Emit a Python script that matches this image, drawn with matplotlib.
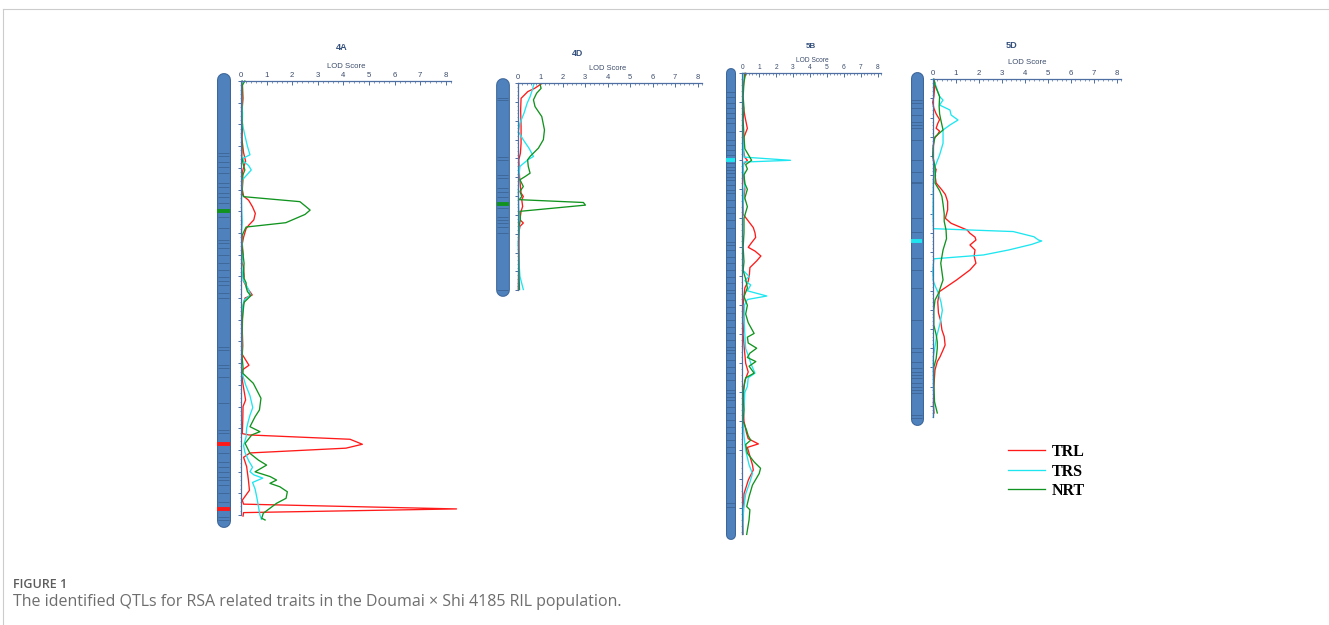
import numpy as np
import matplotlib.pyplot as plt
from matplotlib.lines import Line2D

W, H = 1329, 625

# ---- data: (position, LOD) pairs ----
a4_trl = [(0, 0.05), (8, 0.08), (15, 0.03), (20, 0.06), (27, 0.04), (33, 0.1), (37, 0.18), (40, 0.1), (42, 0.05),
          (45, 0.08), (50, 0.05), (53, 0.1), (55, 0.3), (58, 0.45), (61, 0.56), (64, 0.5), (66.5, 0.3), (68, 0.2),
          (70, 0.15), (72, 0.1), (75, 0.05), (80, 0.08), (83, 0.03), (86, 0.1), (90, 0.12), (92, 0.09), (95, 0.22),
          (98.6, 0.44), (100, 0.16), (104, 0.07), (114.7, 0.05), (122, 0.07), (126, 0.05), (131, 0.31), (133, 0.07),
          (137.8, 0.05), (147, 0.18), (150, 0.08), (156, 0.07), (162.5, 0.05), (163.1, 0.3), (165.1, 4.26),
          (167.4, 4.74), (169.2, 4.1), (171.4, 0.35), (173.4, 0.1), (177.7, 0.22), (183.9, 0.29), (188.6, 0.33),
          (193.2, 0.05), (195, 0.1), (197.2, 8.42), (198.9, 0.1), (200.5, 0.08)]
a4_trs = [(0, 0.05), (5, 0.02), (10, 0.03), (15, 0.06), (19.5, 0.05), (25, 0.15), (30, 0.25), (34, 0.35),
          (35.6, 0.08), (37, 0.1), (39, 0.3), (41, 0.4), (43, 0.25), (45.6, 0.05), (50, 0.03), (55, 0.02), (60, 0.03),
          (65, 0.05), (70, 0.02), (75, 0.04), (80, 0.05), (85, 0.03), (90, 0.06), (92, 0.1), (95, 0.25), (98.5, 0.38),
          (101, 0.12), (105, 0.05), (115, 0.03), (125, 0.04), (131, 0.02), (135, 0.05), (140, 0.18), (145, 0.35),
          (150.5, 0.46), (154, 0.35), (157, 0.28), (160, 0.22), (164, 0.2), (168, 0.1), (171, 0.15), (175, 0.3),
          (178, 0.45), (180, 0.35), (181.5, 0.5), (183, 0.85), (185, 0.45), (188, 0.55), (192, 0.62), (196, 0.68),
          (200, 0.74), (202, 0.8)]
a4_nrt = [(0, 0.15), (2, 0.05), (10, 0.03), (20, 0.04), (25, 0.02), (30, 0.05), (35, 0.03), (38, 0.08), (41, 0.15),
          (44, 0.05), (48, 0.03), (52, 0.05), (53.3, 0.1), (55.6, 2.3), (58, 2.55), (59.5, 2.7), (61.5, 2.5),
          (65.3, 1.75), (67.3, 0.2), (68.5, 0.15), (71, 0.05), (75, 0.03), (80, 0.08), (84, 0.12), (88, 0.1),
          (91, 0.12), (93, 0.2), (95, 0.2), (97, 0.25), (99, 0.38), (102, 0.12), (110, 0.05), (120, 0.03), (128, 0.05),
          (132, 0.08), (134.7, 0.07), (139.3, 0.48), (146.2, 0.78), (151.6, 0.72), (154.7, 0.55), (159.3, 0.35),
          (161.6, 0.74), (163.1, 0.42), (167, 0.16), (171.6, 0.35), (174.7, 0.68), (177, 1.0), (180.1, 0.55),
          (182.3, 1.14), (183.9, 1.39), (185.4, 1.13), (187, 1.52), (189.3, 1.81), (192.3, 1.76), (194.6, 1.39),
          (199.2, 0.87), (201.5, 0.81), (202.3, 0.94)]

d4_trl = [(0.3, 1.05), (2.7, 0.75), (4.4, 0.45), (8, 0.15), (14.2, 0.13), (23, 0.15), (31.9, 0.15), (37.2, 0.12),
          (40.7, 0.05), (49.6, 0.08), (58.4, 0.15), (60.2, 0.25), (61.9, 0.18), (65.5, 0.22), (68.1, 0.15),
          (72.6, 0.1), (74.3, 0.25), (76.1, 0.1), (79.6, 0.05), (93.8, 0.05), (109.7, 0.03)]
d4_trs = [(0.3, 0.72), (3.5, 0.65), (7.1, 0.55), (10.6, 0.42), (15.9, 0.28), (21.2, 0.1), (25.7, 0.03), (30.1, 0.25),
          (34.5, 0.5), (38.9, 0.7), (40.7, 0.45), (44.2, 0.1), (49.6, 0.05), (58.4, 0.03), (67.3, 0.05), (76.1, 0.08),
          (85, 0.02), (93.8, 0.05), (102.7, 0.1), (109.7, 0.25)]
d4_nrt = [(0.3, 0.99), (2.7, 1.04), (5.3, 0.84), (8.8, 0.7), (12.4, 0.77), (17.7, 1.07), (24.8, 1.19), (30, 1.14),
          (34.5, 0.92), (38.9, 0.55), (40.7, 0.44), (44.2, 0.47), (47.8, 0.55), (49.6, 0.33), (51.3, 0.1),
          (54.9, 0.25), (57.5, 0.1), (60.2, 0.18), (61.9, 0.07), (63.4, 2.92), (64.8, 3.01), (68.1, 0.1),
          (72.6, 0.12), (76.1, 0.06), (85, 0.04), (93.8, 0.05), (102.7, 0.06), (109.7, 0.08)]

b5_trl = [(0, 0.15), (5, 0.05), (10, 0.02), (15, 0.16), (19, 0.3), (22, 0.1), (26, 0.05), (29, 0.15), (30, 0.3),
          (31.5, 0.05), (35, 0.08), (40, 0.15), (45, 0.05), (48.6, 0.05), (53.2, 0.65), (55, 0.75), (56.6, 0.79),
          (58.4, 0.55), (60, 0.35), (61.3, 0.75), (63, 1.1), (64.7, 0.85), (67, 0.45), (69.4, 0.42), (71.7, 0.35),
          (74, 0.15), (77, 0.1), (80, 0.05), (85, 0.1), (90, 0.05), (95, 0.12), (100, 0.2), (103, 0.35), (106, 0.15),
          (110, 0.05), (115, 0.05), (120, 0.1), (124, 0.25), (126, 0.35), (127.8, 0.95), (129, 0.3), (132, 0.45),
          (135, 0.6), (136.8, 0.65), (140.2, 0.36), (145, 0.1), (151.7, 0.06), (155, 0.03), (159, 0.05)]
b5_trs = [(0, 0.05), (10, 0.02), (20, 0.03), (28.9, 0.1), (30, 2.85), (30.6, 0.1), (33, 0.05), (38, 0.15), (40, 0.1),
          (45, 0.05), (50, 0.02), (60, 0.02), (65, 0.03), (68, 0.05), (70, 0.4), (71.5, 0.15), (73, 0.5), (75, 0.3),
          (76.8, 1.45), (78, 0.3), (80, 0.12), (85, 0.1), (90, 0.15), (95, 0.2), (98, 0.4), (100, 0.5), (103.4, 0.75),
          (105, 0.35), (108, 0.3), (110, 0.15), (115, 0.1), (120, 0.05), (125, 0.1), (130, 0.2), (135, 0.4),
          (138, 0.6), (141, 0.45), (145, 0.2), (150, 0.08), (155, 0.04), (159, 0.03)]
b5_nrt = [(0, 0.2), (3, 0.1), (8, 0.05), (12, 0.1), (16, 0.05), (22, 0.1), (26, 0.15), (28, 0.35), (30, 0.55),
          (31.5, 0.2), (33, 0.3), (35, 0.1), (38, 0.15), (40, 0.3), (43, 0.15), (46, 0.3), (50, 0.1), (55, 0.1),
          (60, 0.05), (65, 0.1), (68, 0.05), (71, 0.2), (74, 0.3), (77, 0.1), (80, 0.3), (83, 0.2), (86, 0.35),
          (89.7, 0.7), (91, 0.3), (93, 0.35), (94.8, 0.85), (96.5, 0.45), (98, 0.3), (99.4, 0.8), (101, 0.4),
          (103.4, 0.7), (105, 0.2), (108, 0.1), (112, 0.05), (116, 0.1), (120, 0.05), (123, 0.25), (125, 0.35),
          (126.5, 0.5), (128, 0.2), (131, 0.3), (134, 0.7), (136.2, 1.08), (138, 1.0), (142, 0.6), (146, 0.4),
          (149.4, 0.26), (150.5, 0.45), (154, 0.4), (159, 0.26)]

d5_trl = [(0, 0.05), (2, 0.1), (5, 0.08), (9, 0.05), (12, 0.0), (15, 0.05), (18, 0.15), (21, 0.3), (23, 0.22),
          (25.5, 0.15), (27, 0.3), (29, 0.2), (31, 0.05), (35, 0.03), (40, 0.02), (45, 0.05), (47, 0.15), (50, 0.1),
          (54, 0.15), (57.6, 0.4), (60, 0.55), (63.7, 0.65), (68, 0.65), (72.4, 0.55), (75, 0.8), (78.5, 1.5),
          (80.2, 1.62), (82.2, 1.84), (83.7, 1.88), (86.3, 1.62), (88.9, 1.84), (92, 1.8), (95.8, 1.88),
          (99.3, 1.62), (104.5, 1.04), (110.6, 0.29), (116, 0.22), (121.7, 0.25), (126, 0.35), (130.5, 0.4),
          (134, 0.5), (138.4, 0.54), (141, 0.45), (144.5, 0.32), (147, 0.2), (151.4, 0.1), (160, 0.05),
          (170.5, 0.03), (173.8, 0.06)]
d5_trs = [(0, 0.02), (2, 0.1), (5.6, 0.2), (9, 0.3), (10.8, 0.45), (13.4, 0.3), (16, 0.75), (18.6, 0.8), (21.2, 1.1),
          (23.8, 0.75), (26.4, 0.45), (33.3, 0.45), (39.4, 0.3), (45.5, 0.1), (52, 0.03), (60, 0.02), (70, 0.01),
          (77.8, 0.03), (79.3, 3.5), (82, 4.4), (83.7, 4.6), (84.2, 4.74), (86, 4.3), (88.9, 3.3), (91.5, 2.2),
          (93.5, 0.05), (100, 0.0), (104.9, 0.02), (108, 0.12), (111.5, 0.25), (116, 0.36), (120.3, 0.42),
          (127.1, 0.32), (134, 0.17), (144.4, 0.03), (150, 0.02), (160, 0.03), (170, 0.05), (176, 0.03)]
d5_nrt = [(0, 0.05), (3, 0.1), (9, 0.3), (14, 0.28), (18, 0.3), (21, 0.35), (26.4, 0.45), (30, 0.1), (35, 0.02),
          (40, 0.0), (45.5, 0.1), (50, 0.12), (54, 0.1), (58, 0.3), (61, 0.4), (65, 0.45), (70, 0.5), (74, 0.5),
          (78.5, 0.58), (83, 0.6), (88.9, 0.45), (95.8, 0.35), (104.5, 0.45), (111.5, 0.25), (115, 0.1),
          (120, 0.05), (128, 0.05), (133, 0.15), (136.8, 0.2), (140, 0.2), (145.5, 0.15), (150, 0.05), (160, 0.05),
          (168, 0.08), (173.8, 0.2)]

# marker bands on the chromosomes (cM)
a4_bands = [33.3, 34.6, 37.2, 39.5, 42.5, 47.1, 48.7, 51.8, 53.3, 56.4, 62.5, 67.9, 73.3, 74.5, 77.1, 80.2, 84, 87.1,
            90.2, 92, 94, 97.8, 100.1, 122.4, 124, 130.9, 132.4, 136.3, 148.5, 160.8, 162.4, 171.6, 175.4, 177.7,
            180, 182.3, 183.9, 186.2, 190, 193.9, 200.8, 202.5]
d4_bands = [8, 8.9, 39, 40.8, 48.8, 50.5, 55.9, 57.7, 60.3, 66.5, 71, 72.7, 74.5, 76.3, 79.8, 110]
b5_bands = [6.3, 8.1, 10.3, 12.1, 13.8, 15.5, 17.2, 20.1, 23, 24.7, 26.4, 28.2, 31, 32.2, 33.3, 34.5, 35.7, 36.8,
            38.5, 40.2, 41.4, 43.7, 46, 48.3, 50.6, 53.4, 58.1, 59.2, 60.9, 63.2, 65.5, 67.8, 70.1, 72.4, 74.7, 75.9,
            78.2, 80.5, 82.8, 85.1, 87.4, 89.7, 92, 94.3, 95.4, 96.6, 98.9, 101.2, 103.4, 105.8, 109.2, 110.3, 111.5,
            112.7, 115, 117.2, 119.6, 121.9, 124.1, 126.4, 128.8, 131, 148.3, 149.4]
d5_bands = [10.8, 12.5, 15.1, 18.6, 22.1, 23.8, 25.5, 31.6, 42, 48.1, 53.3, 54.2, 72.4, 79.4, 93.2, 99.3, 108.9,
            125.4, 140.1, 141.9, 147.1, 150.5, 152.3, 154, 155.7, 158.3, 160.1, 161.8, 163.5, 174.8, 176.6]

# highlighted QTL positions (cM, trait)
a4_qtl = [(59.8, 'NRT'), (167.3, 'TRL'), (197.2, 'TRL')]
d4_qtl = [(64.2, 'NRT')]
b5_qtl = [(29.9, 'TRS')]
d5_qtl = [(84.2, 'TRS')]

traits = ['TRL', 'TRS', 'NRT']
colors = {'TRL': '#ff1a1a', 'TRS': '#1ee6f0', 'NRT': '#11941f'}

# ---- layout in pixels (style only) ----
# x0: pixel of LOD 0, sx: px per LOD, y0: pixel of 0 cM, sy: px per cM
panels = [
    dict(name='4A', data=(a4_trl, a4_trs, a4_nrt), bands=a4_bands, qtl=a4_qtl, length=200,
         x0=241, sx=25.6, y0=81, sy=2.17, cx=223.5, cw=13.5, ctop=73, cbot=528,
         tx=342, ty=48, lx=346, ly=66, fs=5.6),
    dict(name='4D', data=(d4_trl, d4_trs, d4_nrt), bands=d4_bands, qtl=d4_qtl, length=110,
         x0=517.7, sx=22.5, y0=83.3, sy=1.88, cx=502.7, cw=13.3, ctop=78.3, cbot=296.7,
         tx=577, ty=53, lx=608, ly=69, fs=5.4),
    dict(name='5B', data=(b5_trl, b5_trs, b5_nrt), bands=b5_bands, qtl=b5_qtl, length=159,
         x0=742.3, sx=16.9, y0=73.3, sy=2.9, cx=730.5, cw=9.5, ctop=68.3, cbot=540,
         tx=811, ty=46, lx=812, ly=60, fs=4.8),
    dict(name='5D', data=(d5_trl, d5_trs, d5_nrt), bands=d5_bands, qtl=d5_qtl, length=176,
         x0=932.7, sx=23.0, y0=79.3, sy=1.92, cx=916.7, cw=12.5, ctop=71.7, cbot=425,
         tx=1012, ty=46, lx=1027, ly=62.5, fs=5.6),
]

axis_col = '#4f6fa3'
label_col = '#3b4c6b'
chrom_col = '#4f81bd'
chrom_edge = '#3d6699'
band_col = '#3a5f8f'

fig = plt.figure(figsize=(W / 100, H / 100), dpi=100)
plt.rcParams['font.family'] = ['Liberation Sans', 'DejaVu Sans']

handles = []
for p in panels:
    left = p['cx'] - p['cw'] / 2 - 4
    right = p['x0'] + 8.8 * p['sx']
    top = p['ctop'] - 2
    bot = p['cbot'] + 4
    ax = fig.add_axes([left / W, 1 - bot / H, (right - left) / W, (bot - top) / H])
    ax.set_xlim((left - p['x0']) / p['sx'], (right - p['x0']) / p['sx'])
    ax.set_ylim((bot - p['y0']) / p['sy'], (top - p['y0']) / p['sy'])
    ax.patch.set_alpha(0)

    # chromosome body with rounded ends
    cxd = (p['cx'] - p['x0']) / p['sx']
    half_x = p['cw'] / 2 / p['sx']
    half_y = p['cw'] / 2 / p['sy']
    ys = [(p['ctop'] - p['y0']) / p['sy'] + half_y, (p['cbot'] - p['y0']) / p['sy'] - half_y]
    ax.plot([cxd, cxd], ys, color=chrom_edge, lw=(p['cw'] + 0.5) * 0.72, solid_capstyle='round')
    ax.plot([cxd, cxd], ys, color=chrom_col, lw=(p['cw'] - 1.6) * 0.72, solid_capstyle='round')
    ax.hlines(p['bands'], cxd - half_x * 0.85, cxd + half_x * 0.85, colors=band_col, lw=0.7, alpha=0.75)
    for pos, t in p['qtl']:
        ax.hlines(pos, cxd - half_x * 0.9, cxd + half_x * 0.9, colors=colors[t], lw=2.8)

    # LOD curves
    for t, d in zip(traits, p['data']):
        arr = np.array(d)
        ln, = ax.plot(arr[:, 1], arr[:, 0], color=colors[t], lw=0.95, clip_on=False)
        if p['name'] == '4A':
            handles.append(ln)

    # axes: LOD on top, map position on the left
    for s in ['bottom', 'right']:
        ax.spines[s].set_visible(False)
    ax.spines['top'].set_position(('data', 0))
    ax.spines['left'].set_position(('data', 0))
    ax.spines['top'].set_bounds(0, 8.2)
    ax.spines['left'].set_bounds(0, p['length'])
    for s in ['top', 'left']:
        ax.spines[s].set_color(axis_col)
        ax.spines[s].set_linewidth(0.9)
    ax.xaxis.tick_top()
    ax.set_xticks(range(9))
    ax.set_xticks(np.arange(0, 8.21, 0.2), minor=True)
    ax.tick_params(axis='x', which='major', direction='in', length=3, width=0.7, colors=axis_col,
                   labelcolor=label_col, labelsize=p['fs'], pad=1.6)
    ax.tick_params(axis='x', which='minor', direction='in', length=1.5, width=0.5, colors=axis_col)
    ax.set_yticks(np.arange(0, p['length'] + 0.1, 10))
    ax.set_yticks(np.arange(0, p['length'] + 0.1, 2), minor=True)
    ax.tick_params(axis='y', which='major', direction='out', length=2.5, width=0.7, colors=axis_col,
                   labelleft=False)
    ax.tick_params(axis='y', which='minor', direction='out', length=1.0, width=0.4, colors=axis_col)

    ax.text((p['tx'] - p['x0']) / p['sx'], (p['ty'] - p['y0']) / p['sy'], p['name'], ha='center', va='center',
            fontsize=p['fs'] + 1.0, fontweight='bold', color='#34507c')
    ax.text((p['lx'] - p['x0']) / p['sx'], (p['ly'] - p['y0']) / p['sy'], 'LOD Score', ha='center', va='center',
            fontsize=p['fs'], color=label_col)

fig.legend(handles, traits, loc='upper left', bbox_to_anchor=(1008 / W, 1 - 444 / H), frameon=False,
           prop=dict(family='Liberation Serif', weight='bold', size=11.5), handlelength=2.3, handletextpad=0.45,
           labelspacing=0.22, borderaxespad=0, borderpad=0)

# frame and caption
fig.add_artist(Line2D([3 / W, 1], [1 - 9 / H, 1 - 9 / H], transform=fig.transFigure, color='#cccccc', lw=0.8))
fig.add_artist(Line2D([3 / W, 3 / W], [0, 1 - 9 / H], transform=fig.transFigure, color='#cccccc', lw=0.8))
fig.text(13 / W, 1 - 585 / H, 'FIGURE 1', fontsize=9, family='Open Sans', fontweight='semibold',
         color='#5c5c5c', va='center')
fig.text(13 / W, 1 - 602 / H, 'The identified QTLs for RSA related traits in the Doumai \u00d7 Shi 4185 RIL population.',
         fontsize=11.5, family='Open Sans', color='#6e6e6e', va='center')

fig.savefig('out.png', dpi=100)
